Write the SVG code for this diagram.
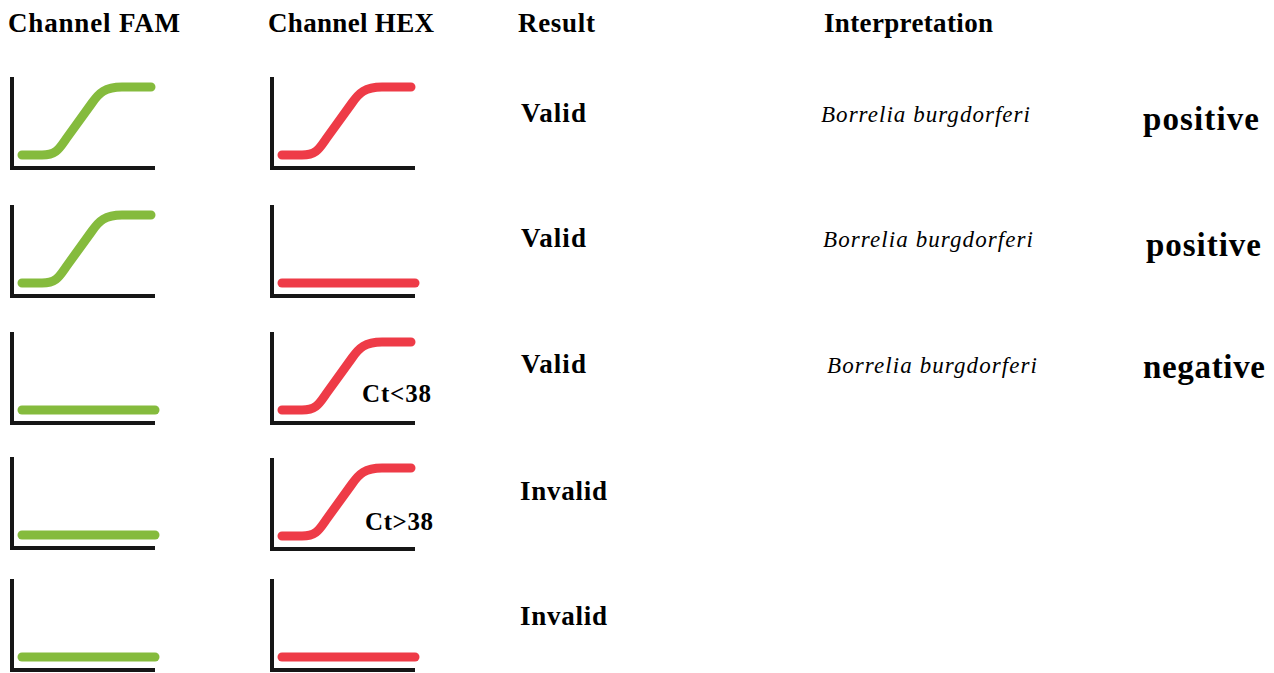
<svg xmlns="http://www.w3.org/2000/svg" xmlns:xlink="http://www.w3.org/1999/xlink" width="1274" height="673" viewBox="0 0 1274 673">
  <style>
    .axis { fill: none; stroke: #161616; stroke-width: 4; stroke-linecap: butt; stroke-linejoin: miter; }
    .trace { fill: none; stroke-width: 9; stroke-linecap: round; stroke-linejoin: round; }
    .fam { stroke: #85BB3D; }
    .hex { stroke: #EE3B47; }
    .hdr { font-family: "Liberation Serif", serif; font-weight: bold; font-size: 27px; fill: #000; }
    .res { font-family: "Liberation Serif", serif; font-weight: bold; font-size: 27px; fill: #000; }
    .sp { font-family: "Liberation Serif", serif; font-style: italic; font-size: 23px; fill: #000; }
    .call { font-family: "Liberation Serif", serif; font-weight: bold; font-size: 33px; fill: #000; }
    .ct { font-family: "Liberation Serif", serif; font-weight: bold; font-size: 25px; fill: #000; }
  </style>
  <defs>
    <!-- amplification plot frame and traces, local origin at the top of the y axis -->
    <path id="frame" class="axis" d="M0 0 V91 H143"/>
    <path id="sigmoid" d="M10 78 H30 C44 78 47 72 54 62 L80 26 C87 16 93 10 110 10 H139"/>
    <path id="flat" d="M10 78 H143"/>
  </defs>

  <rect width="1274" height="673" fill="#fff"/>

  <g id="headers">
    <text class="hdr" x="8" y="32" textLength="172">Channel FAM</text>
    <text class="hdr" x="268" y="32" textLength="166">Channel HEX</text>
    <text class="hdr" x="518" y="32" textLength="77">Result</text>
    <text class="hdr" x="824" y="32" textLength="169">Interpretation</text>
  </g>

  <!-- row 1: both channels amplified -->
  <g id="row1">
    <g transform="translate(12 77)">
      <use xlink:href="#frame"/>
      <use xlink:href="#sigmoid" class="trace fam"/>
    </g>
    <g transform="translate(272 77)">
      <use xlink:href="#frame"/>
      <use xlink:href="#sigmoid" class="trace hex"/>
    </g>
    <text class="res" x="521" y="122" textLength="65">Valid</text>
    <text class="sp" x="821" y="122" textLength="209">Borrelia burgdorferi</text>
    <text class="call" x="1143" y="130" textLength="116">positive</text>
  </g>

  <!-- row 2: FAM amplified, HEX flat -->
  <g id="row2">
    <g transform="translate(12 205)">
      <use xlink:href="#frame"/>
      <use xlink:href="#sigmoid" class="trace fam"/>
    </g>
    <g transform="translate(272 205)">
      <use xlink:href="#frame"/>
      <use xlink:href="#flat" class="trace hex"/>
    </g>
    <text class="res" x="521" y="247" textLength="65">Valid</text>
    <text class="sp" x="823" y="247" textLength="210">Borrelia burgdorferi</text>
    <text class="call" x="1146" y="256" textLength="115">positive</text>
  </g>

  <!-- row 3: FAM flat, HEX amplified below cut-off -->
  <g id="row3">
    <g transform="translate(12 332)">
      <use xlink:href="#frame"/>
      <use xlink:href="#flat" class="trace fam"/>
    </g>
    <g transform="translate(272 332)">
      <use xlink:href="#frame"/>
      <use xlink:href="#sigmoid" class="trace hex"/>
      <text class="ct" x="90" y="70" textLength="69">Ct&lt;38</text>
    </g>
    <text class="res" x="521" y="373" textLength="65">Valid</text>
    <text class="sp" x="827" y="373" textLength="210">Borrelia burgdorferi</text>
    <text class="call" x="1143" y="378" textLength="122">negative</text>
  </g>

  <!-- row 4: FAM flat, HEX amplified above cut-off -->
  <g id="row4">
    <g transform="translate(12 457)">
      <use xlink:href="#frame"/>
      <use xlink:href="#flat" class="trace fam"/>
    </g>
    <g transform="translate(272 458)">
      <use xlink:href="#frame"/>
      <use xlink:href="#sigmoid" class="trace hex"/>
      <text class="ct" x="93" y="72" textLength="68">Ct&gt;38</text>
    </g>
    <text class="res" x="520" y="500" textLength="87">Invalid</text>
  </g>

  <!-- row 5: no amplification in either channel -->
  <g id="row5">
    <g transform="translate(12 579)">
      <use xlink:href="#frame"/>
      <use xlink:href="#flat" class="trace fam"/>
    </g>
    <g transform="translate(272 579)">
      <use xlink:href="#frame"/>
      <use xlink:href="#flat" class="trace hex"/>
    </g>
    <text class="res" x="520" y="625" textLength="87">Invalid</text>
  </g>
</svg>
